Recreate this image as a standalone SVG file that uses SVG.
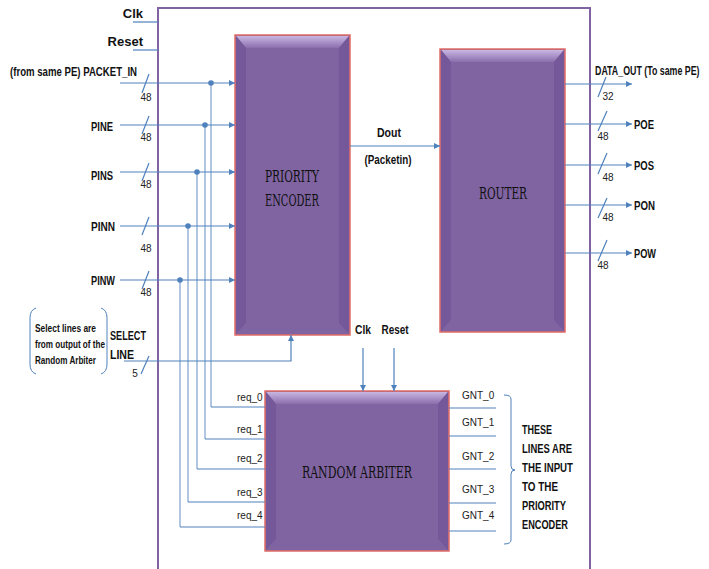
<svg xmlns="http://www.w3.org/2000/svg" width="709" height="569" viewBox="0 0 709 569">
<defs>
<marker id="ah" viewBox="0 0 10 10" refX="10" refY="5" markerWidth="6" markerHeight="6" orient="auto" markerUnits="userSpaceOnUse"><path d="M0,0 L10,5 L0,10 z" fill="#4F81BD"/></marker>
<linearGradient id="topb" x1="0" y1="0" x2="0" y2="1"><stop offset="0" stop-color="#C9B6E2"/><stop offset="1" stop-color="#8A6EAD"/></linearGradient>
<style>
.ln{stroke:#4F81BD;stroke-width:1.2;fill:none}
.tap{stroke:#9DB8DA;stroke-width:1.6;fill:none}
.fr{stroke:#8064A2;stroke-width:2;fill:none}
.lbl{font-family:"Liberation Sans",Arial,sans-serif;font-weight:bold;font-size:13px;fill:#111}
.sm{font-family:"Liberation Sans",Arial,sans-serif;font-size:10px;fill:#222}
.blk{fill:#8064A2;stroke:#E06B66;stroke-width:1.5}
.bt{font-family:"DejaVu Serif Condensed","Liberation Serif",serif;font-size:17px;fill:#111}
.dot{fill:#4F81BD}
</style>
</defs>
<rect width="709" height="569" fill="#fff"/>
<g id="frame">
<path class="fr" d="M158,569 V8 H590 V569"/>
</g>
<g id="priority_encoder">
<rect class="blk" x="235" y="35" width="115" height="300"/>
<polygon points="236,36 349,36 339,48 246,48" fill="url(#topb)"/>
<polygon points="236,36 246,48 246,323 236,334" fill="#75589A"/>
<polygon points="349,36 339,48 339,323 349,334" fill="#75589A"/>
<text class="bt" x="292" y="182" text-anchor="middle" textLength="54" lengthAdjust="spacingAndGlyphs">PRIORITY</text>
<text class="bt" x="292" y="206" text-anchor="middle" textLength="54" lengthAdjust="spacingAndGlyphs">ENCODER</text>
</g>
<g id="router">
<rect class="blk" x="440" y="49" width="125" height="283"/>
<polygon points="441,50 564,50 554,62 451,62" fill="url(#topb)"/>
<polygon points="441,50 451,62 451,320 441,331" fill="#75589A"/>
<polygon points="564,50 554,62 554,320 564,331" fill="#75589A"/>
<text class="bt" x="503" y="199" text-anchor="middle" textLength="48" lengthAdjust="spacingAndGlyphs">ROUTER</text>
</g>
<g id="random_arbiter">
<rect class="blk" x="265" y="391" width="184" height="160"/>
<polygon points="266,392 448,392 438,404 276,404" fill="url(#topb)"/>
<polygon points="266,392 276,404 276,539 266,550" fill="#75589A"/>
<polygon points="448,392 438,404 438,539 448,550" fill="#75589A"/>
<text class="bt" x="357" y="478" text-anchor="middle" textLength="110" lengthAdjust="spacingAndGlyphs">RANDOM  ARBITER</text>
</g>
<g id="connectors">
<line class="ln" x1="133" y1="22" x2="158" y2="22"/>
<line class="ln" x1="133" y1="50" x2="158" y2="50"/>
<line class="tap" x1="211" y1="83" x2="211" y2="407"/>
<line class="tap" x1="205" y1="125" x2="205" y2="439"/>
<line class="tap" x1="197" y1="172" x2="197" y2="469"/>
<line class="tap" x1="188" y1="226" x2="188" y2="502"/>
<line class="tap" x1="180" y1="280" x2="180" y2="527"/>
<path class="ln" d="M211,407 H265 M205,439 H265 M197,469 H265 M188,502 H265 M180,527 H265"/>
<line class="ln" x1="120" y1="83" x2="235" y2="83" marker-end="url(#ah)"/>
<line class="ln" x1="120" y1="125" x2="235" y2="125" marker-end="url(#ah)"/>
<line class="ln" x1="120" y1="172" x2="235" y2="172" marker-end="url(#ah)"/>
<line class="ln" x1="120" y1="226" x2="235" y2="226" marker-end="url(#ah)"/>
<line class="ln" x1="120" y1="280" x2="235" y2="280" marker-end="url(#ah)"/>
<circle class="dot" cx="211" cy="83" r="2.8"/>
<circle class="dot" cx="205" cy="125" r="2.8"/>
<circle class="dot" cx="197" cy="172" r="2.8"/>
<circle class="dot" cx="188" cy="226" r="2.8"/>
<circle class="dot" cx="180" cy="280" r="2.8"/>
<path class="ln" d="M142,93 L149,74 M142,134 L149,116 M142,181 L149,163 M142,235 L149,217 M142,289 L149,271"/>
<path class="ln" d="M124,361 H291 V335" marker-end="url(#ah)"/>
<path class="ln" d="M141,374 L149,356"/>
<line class="ln" x1="350" y1="146" x2="440" y2="146" marker-end="url(#ah)"/>
<line class="ln" x1="565" y1="84" x2="632" y2="84" marker-end="url(#ah)"/>
<line class="ln" x1="565" y1="124" x2="632" y2="124" marker-end="url(#ah)"/>
<line class="ln" x1="565" y1="165" x2="632" y2="165" marker-end="url(#ah)"/>
<line class="ln" x1="565" y1="205" x2="632" y2="205" marker-end="url(#ah)"/>
<line class="ln" x1="565" y1="253" x2="632" y2="253" marker-end="url(#ah)"/>
<path class="ln" d="M598,97 L606,77 M598,131 L607,111 M598,174 L607,153 M598,218 L607,198 M598,261 L607,240"/>
<line class="ln" x1="363" y1="348" x2="363" y2="391" marker-end="url(#ah)"/>
<line class="ln" x1="394" y1="348" x2="394" y2="391" marker-end="url(#ah)"/>
<path class="ln" d="M449,408 H496 M449,436 H496 M449,469 H496 M449,503 H496 M449,531 H496"/>
<path d="M504,395 Q511,395 511,399 V466 Q511,470 515,470 Q511,470 511,474 V540 Q511,544 504,544" fill="none" stroke="#4F81BD" stroke-width="1"/>
<path d="M36,308 Q30,310 30,318 V364 Q30,372 36,374 M101,308 Q107,310 107,318 V364 Q107,372 101,374" fill="none" stroke="#4F81BD" stroke-width="1"/>
</g>
<g id="labels">
<text class="lbl" x="143" y="18" text-anchor="end">Clk</text>
<text class="lbl" x="143" y="46" text-anchor="end">Reset</text>
<text class="lbl" x="137" y="76" text-anchor="end" textLength="127" lengthAdjust="spacingAndGlyphs">(from same PE) PACKET_IN</text>
<text class="lbl" x="113" y="131" text-anchor="end" textLength="22" lengthAdjust="spacingAndGlyphs">PINE</text>
<text class="lbl" x="113" y="180" text-anchor="end" textLength="22" lengthAdjust="spacingAndGlyphs">PINS</text>
<text class="lbl" x="115" y="231" text-anchor="end" textLength="24" lengthAdjust="spacingAndGlyphs">PINN</text>
<text class="lbl" x="115" y="285" text-anchor="end" textLength="24" lengthAdjust="spacingAndGlyphs">PINW</text>
<text class="sm" x="146" y="101" text-anchor="middle">48</text>
<text class="sm" x="146" y="141" text-anchor="middle">48</text>
<text class="sm" x="146" y="188" text-anchor="middle">48</text>
<text class="sm" x="146" y="252" text-anchor="middle">48</text>
<text class="sm" x="146" y="296" text-anchor="middle">48</text>
<text class="sm" x="135" y="377" text-anchor="middle">5</text>
<text class="lbl" x="110" y="340" textLength="36" lengthAdjust="spacingAndGlyphs">SELECT</text>
<text class="lbl" x="110" y="359" textLength="24" lengthAdjust="spacingAndGlyphs">LINE</text>
<text class="lbl" style="font-size:10px" x="35" y="332" textLength="61" lengthAdjust="spacingAndGlyphs">Select lines are</text>
<text class="lbl" style="font-size:10px" x="35" y="348" textLength="70" lengthAdjust="spacingAndGlyphs">from output of the</text>
<text class="lbl" style="font-size:10px" x="35" y="364" textLength="61" lengthAdjust="spacingAndGlyphs">Random Arbiter</text>
<text class="lbl" x="389" y="137" text-anchor="middle" textLength="24" lengthAdjust="spacingAndGlyphs">Dout</text>
<text class="lbl" x="388" y="164" text-anchor="middle" textLength="47" lengthAdjust="spacingAndGlyphs">(Packetin)</text>
<text class="lbl" transform="translate(595,75) scale(0.68,1)" x="0" y="0">DATA_OUT (To same PE)</text>
<text class="lbl" x="634" y="129" textLength="20" lengthAdjust="spacingAndGlyphs">POE</text>
<text class="lbl" x="634" y="170" textLength="20" lengthAdjust="spacingAndGlyphs">POS</text>
<text class="lbl" x="634" y="210" textLength="21" lengthAdjust="spacingAndGlyphs">PON</text>
<text class="lbl" x="634" y="258" textLength="22" lengthAdjust="spacingAndGlyphs">POW</text>
<text class="sm" x="608" y="100" text-anchor="middle">32</text>
<text class="sm" x="603" y="140" text-anchor="middle">48</text>
<text class="sm" x="608" y="181" text-anchor="middle">48</text>
<text class="sm" x="608" y="221" text-anchor="middle">48</text>
<text class="sm" x="603" y="269" text-anchor="middle">48</text>
<text class="lbl" x="363" y="334" text-anchor="middle" textLength="16" lengthAdjust="spacingAndGlyphs">Clk</text>
<text class="lbl" x="395" y="334" text-anchor="middle" textLength="27" lengthAdjust="spacingAndGlyphs">Reset</text>
<text class="sm" x="237" y="401">req_0</text>
<text class="sm" x="237" y="433">req_1</text>
<text class="sm" x="237" y="462">req_2</text>
<text class="sm" x="237" y="496">req_3</text>
<text class="sm" x="237" y="519">req_4</text>
<text class="sm" x="462" y="399">GNT_0</text>
<text class="sm" x="462" y="426">GNT_1</text>
<text class="sm" x="462" y="460">GNT_2</text>
<text class="sm" x="462" y="493">GNT_3</text>
<text class="sm" x="462" y="519">GNT_4</text>
<text class="lbl" x="522" y="434" textLength="30" lengthAdjust="spacingAndGlyphs">THESE</text>
<text class="lbl" x="522" y="453" textLength="50" lengthAdjust="spacingAndGlyphs">LINES ARE</text>
<text class="lbl" x="522" y="472" textLength="51" lengthAdjust="spacingAndGlyphs">THE INPUT</text>
<text class="lbl" x="522" y="491" textLength="36" lengthAdjust="spacingAndGlyphs">TO THE</text>
<text class="lbl" x="522" y="510" textLength="44" lengthAdjust="spacingAndGlyphs">PRIORITY</text>
<text class="lbl" x="522" y="529" textLength="46" lengthAdjust="spacingAndGlyphs">ENCODER</text>
</g>
</svg>
